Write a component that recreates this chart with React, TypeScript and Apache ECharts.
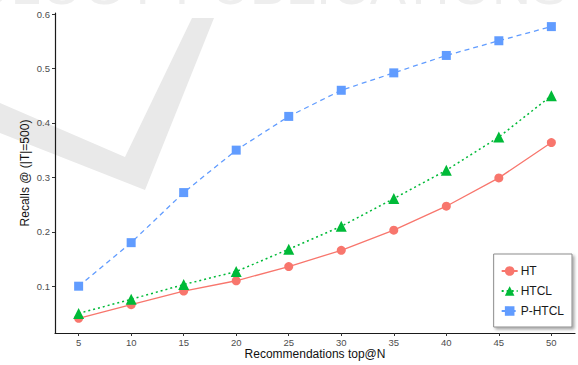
import React, { useEffect, useRef } from "react";
import * as echarts from "echarts";

// Recommendation list length (top@N)
const topN = [5, 10, 15, 20, 25, 30, 35, 40, 45, 50];

// Recall @ (|T|=500) per method
const htRecall = [0.041, 0.066, 0.091, 0.11, 0.136, 0.166, 0.203, 0.247, 0.299, 0.364];
const htclRecall = [0.05, 0.076, 0.103, 0.127, 0.168, 0.21, 0.261, 0.313, 0.374, 0.45];
const phtclRecall = [0.1, 0.18, 0.272, 0.35, 0.412, 0.46, 0.492, 0.524, 0.551, 0.577];

const yTicks = [0.1, 0.2, 0.3, 0.4, 0.5, 0.6];

const FONT = "'Liberation Sans', Arial, Helvetica, sans-serif";

const pairs = (vals: number[]) => topN.map((n, i) => [n, vals[i]]);

export default function App() {
  const ref = useRef<HTMLDivElement>(null);

  useEffect(() => {
    if (!ref.current) return;
    const chart = echarts.init(ref.current, undefined, { renderer: "svg" });

    const axisLine = { show: true, lineStyle: { color: "#1a1a1a", width: 1.2 } };
    const axisTick = { show: true, length: 3, lineStyle: { color: "#333", width: 1 } };

    chart.setOption({
      animation: false,
      backgroundColor: "#ffffff",
      textStyle: { fontFamily: FONT },
      graphic: [
        {
          type: "polygon",
          silent: true,
          z: -10,
          shape: {
            points: [
              [0, 103],
              [125, 157],
              [192, 18],
              [214, 18],
              [145, 190],
              [0, 133],
            ],
          },
          style: { fill: "#e9e9e9" },
        },
        {
          type: "text",
          silent: true,
          z: -10,
          x: 567,
          y: 12,
          style: {
            text: "TECHNOLOGY PUBLICATIONS",
            font: `54px ${FONT}`,
            fill: "#eeeeee",
            align: "right",
            verticalAlign: "bottom",
          },
        },
      ],
      grid: { left: 55, right: 3, top: 13, bottom: 31, containLabel: false },
      xAxis: {
        type: "value",
        min: 2.75,
        max: 52.25,
        name: "Recommendations top@N",
        nameLocation: "middle",
        nameGap: 15,
        nameMoveOverlap: false,
        nameTextStyle: { fontSize: 12, color: "#111", verticalAlign: "top", fontFamily: FONT },
        axisLine,
        axisTick: { ...axisTick, customValues: topN },
        axisLabel: {
          customValues: topN,
          fontSize: 9.5,
          color: "#4d4d4d",
          margin: 4,
          fontFamily: FONT,
        },
        splitLine: { show: false },
      },
      yAxis: {
        type: "value",
        min: 0.014,
        max: 0.602,
        name: "Recalls @ (|T|=500)",
        nameLocation: "middle",
        nameGap: 24,
        nameMoveOverlap: false,
        nameTextStyle: { fontSize: 12, color: "#111", fontFamily: FONT },
        axisLine,
        axisTick: { ...axisTick, customValues: yTicks },
        axisLabel: {
          customValues: yTicks,
          formatter: (v: number) => v.toFixed(1),
          fontSize: 9.5,
          color: "#4d4d4d",
          margin: 5,
          fontFamily: FONT,
        },
        splitLine: { show: false },
      },
      legend: {
        orient: "vertical",
        right: 6,
        bottom: 38,
        itemWidth: 16,
        itemHeight: 12,
        itemGap: 8,
        padding: [11, 8, 10, 7],
        backgroundColor: "#ffffff",
        borderColor: "#8c8c8c",
        borderWidth: 1,
        shadowColor: "rgba(0,0,0,0.35)",
        shadowBlur: 3,
        shadowOffsetX: 2,
        shadowOffsetY: 2,
        textStyle: { fontSize: 12, color: "#1a1a1a", fontFamily: FONT, padding: [0, 0, 0, -2] },
        data: ["HT", "HTCL", "P-HTCL"],
      },
      series: [
        {
          name: "HT",
          type: "line",
          data: pairs(htRecall),
          symbol: "circle",
          symbolSize: 9,
          itemStyle: { color: "#F8766D" },
          lineStyle: { color: "#F8766D", width: 1.3, type: "solid" },
        },
        {
          name: "HTCL",
          type: "line",
          data: pairs(htclRecall),
          symbol: "triangle",
          symbolSize: 11,
          itemStyle: { color: "#00BA38" },
          lineStyle: { color: "#00BA38", width: 1.5, type: [2, 3] },
        },
        {
          name: "P-HTCL",
          type: "line",
          data: pairs(phtclRecall),
          symbol: "rect",
          symbolSize: 9,
          itemStyle: { color: "#619CFF" },
          lineStyle: { color: "#619CFF", width: 1.3, type: [5, 4] },
        },
      ],
    });

    return () => chart.dispose();
  }, []);

  return (
    <div
      ref={ref}
      style={{ position: "fixed", left: 0, top: 0, width: 578, height: 365 }}
    />
  );
}
